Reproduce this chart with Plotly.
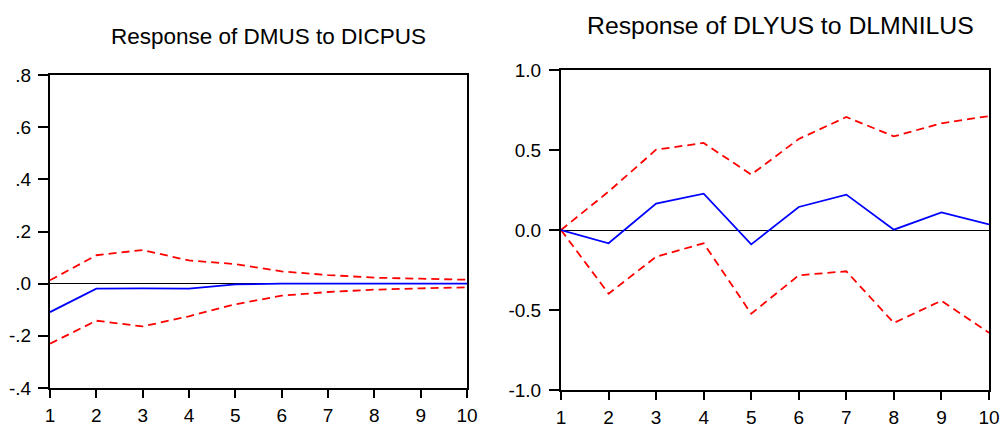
import plotly.graph_objects as go

periods = [1, 2, 3, 4, 5, 6, 7, 8, 9, 10]

# Left panel: Response of DMUS to DICPUS
left_resp = [-0.109, -0.019, -0.018, -0.019, -0.003, 0.0, 0.0, 0.0, 0.0, 0.0]
left_upper = [0.013, 0.109, 0.129, 0.089, 0.075, 0.047, 0.033, 0.023, 0.019, 0.015]
left_lower = [-0.230, -0.142, -0.164, -0.125, -0.079, -0.046, -0.032, -0.023, -0.018, -0.014]
left_ticks = [-0.4, -0.2, 0.0, 0.2, 0.4, 0.6, 0.8]
left_ticktext = ["-.4", "-.2", ".0", ".2", ".4", ".6", ".8"]

# Right panel: Response of DLYUS to DLMNILUS
right_resp = [0.0, -0.083, 0.165, 0.227, -0.090, 0.144, 0.221, 0.002, 0.110, 0.035]
right_upper = [0.0, 0.240, 0.502, 0.544, 0.346, 0.569, 0.706, 0.585, 0.667, 0.712]
right_lower = [0.0, -0.398, -0.167, -0.083, -0.523, -0.283, -0.258, -0.581, -0.442, -0.642]
right_ticks = [-1.0, -0.5, 0.0, 0.5, 1.0]
right_ticktext = ["-1.0", "-0.5", "0.0", "0.5", "1.0"]

titles = ["Response of DMUS to DICPUS", "Response of DLYUS to DLMNILUS"]

FONT = "Liberation Sans"
W, H = 1000, 426
fig = go.Figure()

for resp, up, lo, xa, ya in [
    (left_resp, left_upper, left_lower, "x", "y"),
    (right_resp, right_upper, right_lower, "x2", "y2"),
]:
    fig.add_trace(go.Scatter(x=periods, y=up, mode="lines", xaxis=xa, yaxis=ya,
                             line=dict(color="#ff0000", width=1.8, dash="8px,5px"), showlegend=False))
    fig.add_trace(go.Scatter(x=periods, y=lo, mode="lines", xaxis=xa, yaxis=ya,
                             line=dict(color="#ff0000", width=1.8, dash="8px,5px"), showlegend=False))
    fig.add_trace(go.Scatter(x=periods, y=resp, mode="lines", xaxis=xa, yaxis=ya,
                             line=dict(color="#0000ff", width=1.8), showlegend=False))


def axis_style(ticklen):
    return dict(showgrid=False, showline=True, linecolor="black", linewidth=2, mirror=True,
                ticks="outside", ticklen=ticklen, tickwidth=1.6, tickcolor="black", automargin=False,
                tickfont=dict(family=FONT, size=19, color="black"))


fig.update_layout(
    width=W, height=H, margin=dict(l=0, r=0, t=0, b=0, pad=0, autoexpand=False),
    paper_bgcolor="white", plot_bgcolor="white",
    font=dict(family=FONT, size=19, color="black"),
    xaxis=dict(domain=[50 / W, 467 / W], range=[1, 10], tickvals=periods, zeroline=False, anchor="y",
               ticklabelstandoff=1, ticklabeloverflow="allow", **axis_style(8)),
    yaxis=dict(domain=[1 - 388 / H, 1 - 75 / H], range=[-0.4, 0.8], tickvals=left_ticks, ticktext=left_ticktext,
               zeroline=True, zerolinecolor="black", zerolinewidth=1, anchor="x",
               ticklabelstandoff=3, **axis_style(10)),
    xaxis2=dict(domain=[561 / W, 989 / W], range=[1, 10], tickvals=periods, zeroline=False, anchor="y2",
                ticklabelstandoff=1, ticklabeloverflow="allow", **axis_style(8)),
    yaxis2=dict(domain=[1 - 390 / H, 1 - 70 / H], range=[-1.0, 1.0], tickvals=right_ticks, ticktext=right_ticktext,
                zeroline=True, zerolinecolor="black", zerolinewidth=1, anchor="x2",
                ticklabelstandoff=4, **axis_style(10)),
    annotations=[
        dict(text=titles[0], x=268 / W, y=1 - 36 / H, xref="paper", yref="paper", showarrow=False,
             font=dict(family=FONT, size=22.5, color="black"), xanchor="center", yanchor="middle"),
        dict(text=titles[1], x=780 / W, y=1 - 26 / H, xref="paper", yref="paper", showarrow=False,
             font=dict(family=FONT, size=24.8, color="black"), xanchor="center", yanchor="middle"),
    ],
)

fig.write_html("out.html")
